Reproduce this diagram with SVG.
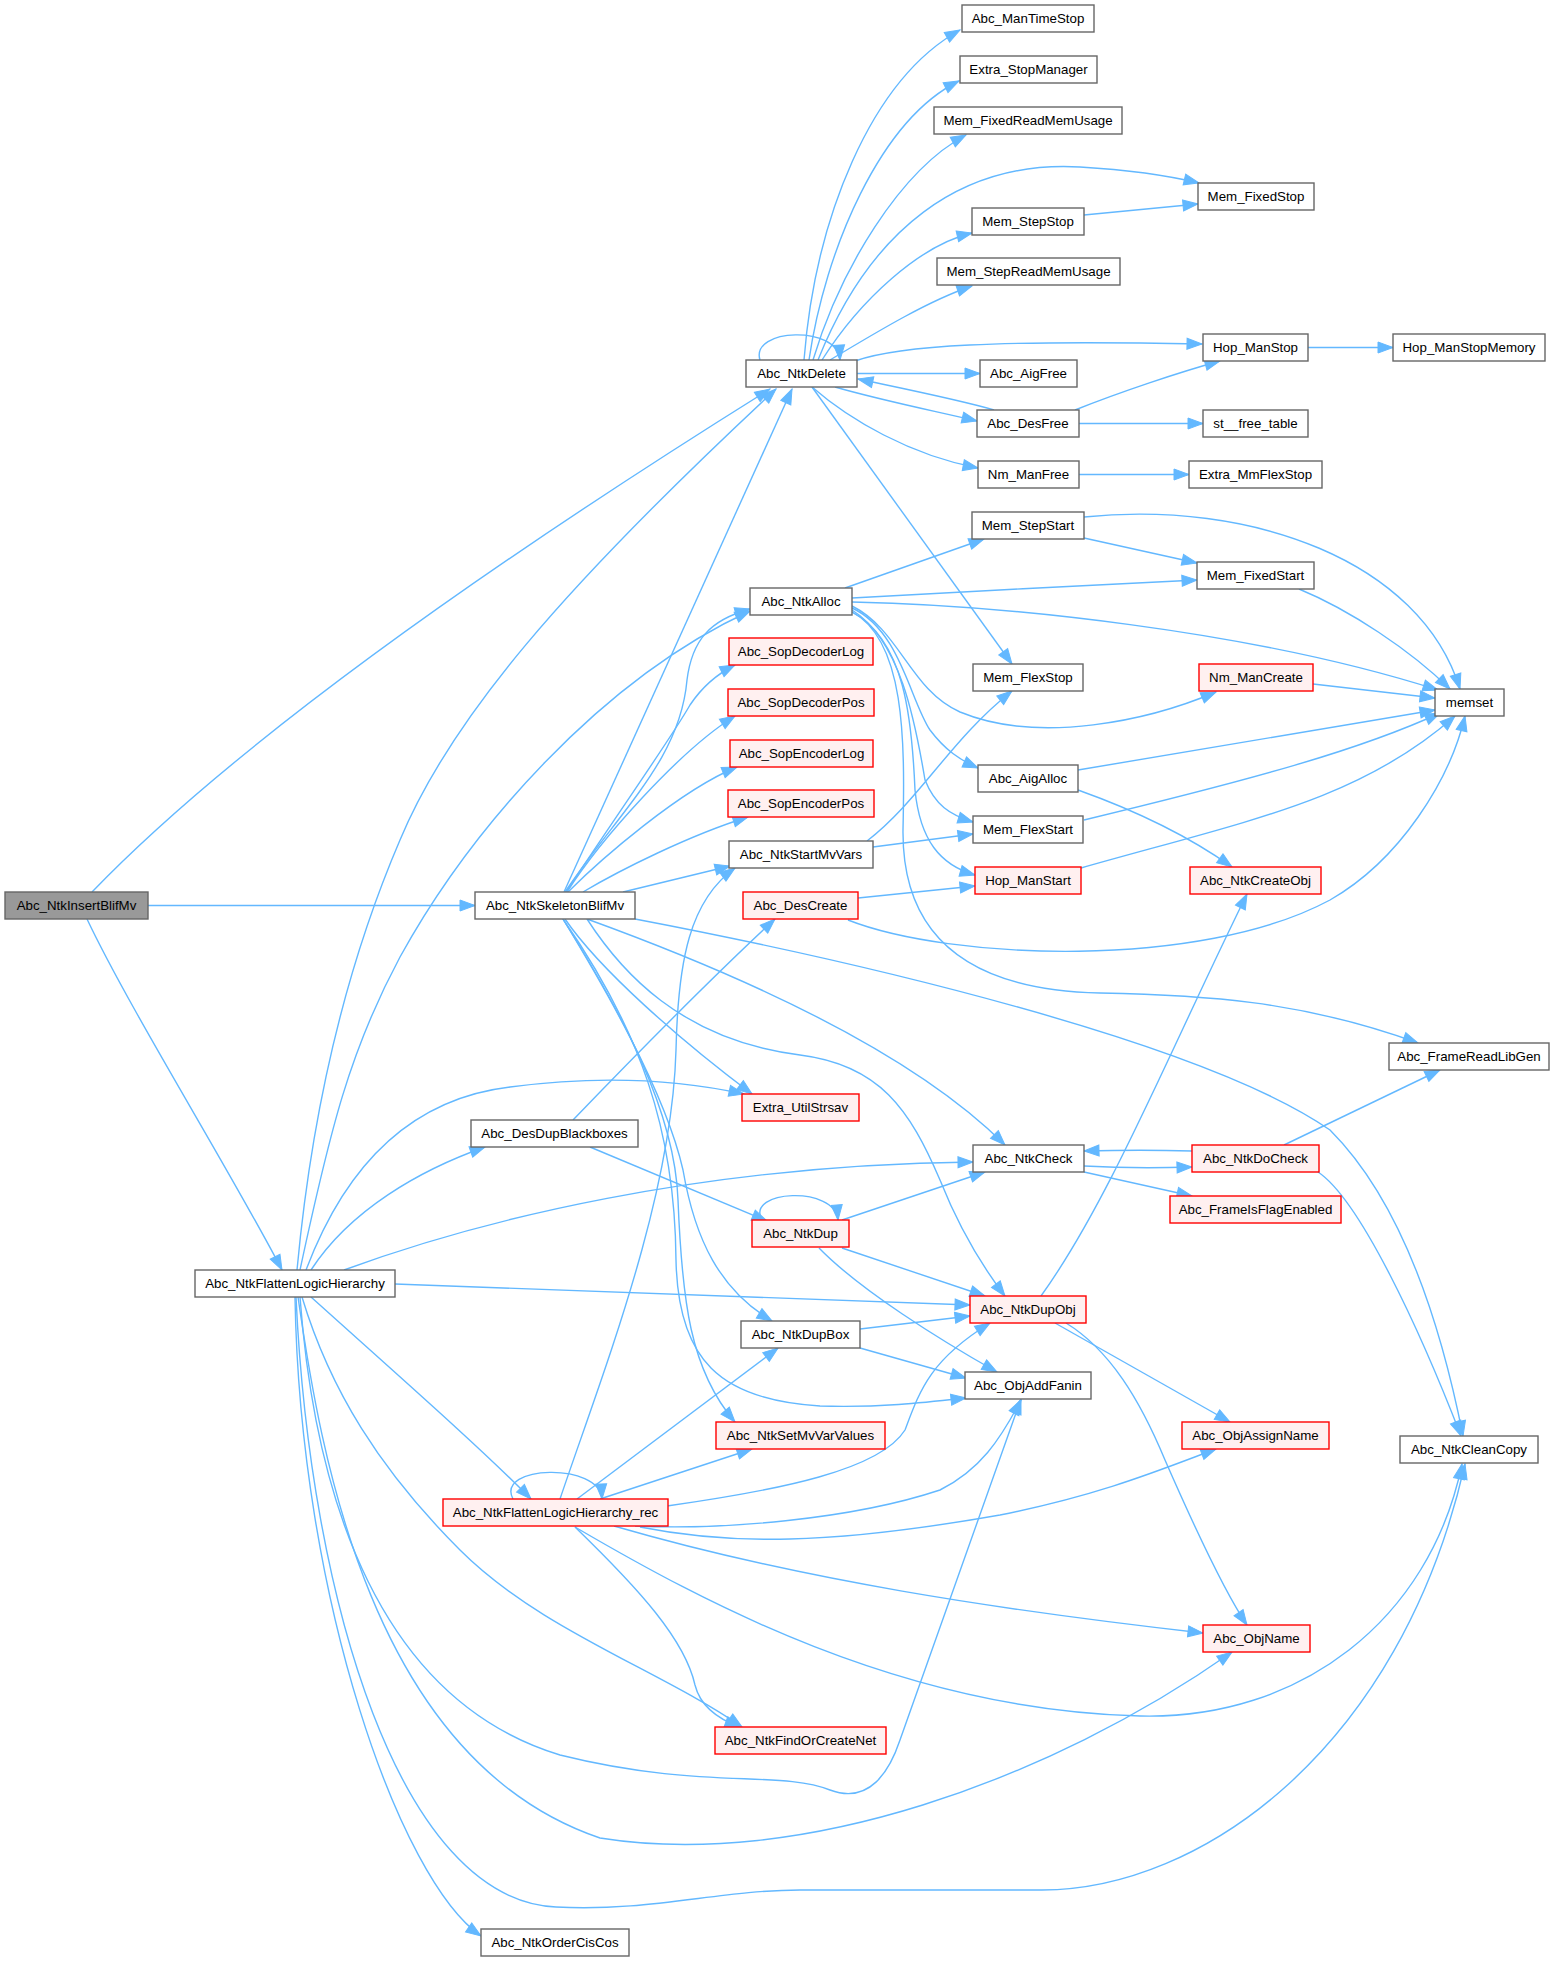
<svg xmlns="http://www.w3.org/2000/svg" width="1555" height="1961" viewBox="0 0 1555 1961">
<style>
rect{stroke-width:1.4}
.g rect{fill:#ffffff;stroke:#666666}
.r rect{fill:#fff0f0;stroke:#ff0000}
.root rect{fill:#999999;stroke:#666666}
text{font-family:"Liberation Sans",Arial,sans-serif;font-size:13.3px;fill:#000;text-anchor:middle}
#edges path{fill:none;stroke:#63b8ff;stroke-width:1.4;marker-end:url(#ah)}
</style>
<defs>
<marker id="ah" markerUnits="userSpaceOnUse" markerWidth="15" markerHeight="11" refX="15" refY="5.5" orient="auto" overflow="visible">
<path d="M0,0 L15,5.5 L0,11 Z" fill="#63b8ff" stroke="#63b8ff" stroke-width="1"/>
</marker>
</defs>
<rect width="1555" height="1961" fill="#ffffff"/>
<g id="edges">
<path d="M804,360 C815,220 870,80 960,30"/>
<path d="M809,360 C825,250 880,120 959,81"/>
<path d="M813,360 C840,270 900,170 966,135"/>
<path d="M818,360 C870,230 960,160 1080,167 C1130,170 1170,176 1199,183"/>
<path d="M822,360 C860,300 920,245 972,233"/>
<path d="M830,360 C880,330 930,300 972,286"/>
<path d="M760,360 C750,328 838,325 840,360"/>
<path d="M855,361 C900,345 1000,340 1202,344"/>
<path d="M857,373.5 L980,373.5"/>
<path d="M835,387 C880,400 930,410 977,421"/>
<path d="M812,387 C850,420 910,455 978,468"/>
<path d="M812,387 L1012,664"/>
<path d="M994,410 C960,400 900,388 858,379"/>
<path d="M1075,410 C1120,392 1180,372 1220,361"/>
<path d="M1079,423.5 L1203,423.5"/>
<path d="M1084,215 L1198,204"/>
<path d="M1308,347.5 L1393,347.5"/>
<path d="M1079,474.5 L1189,474.5"/>
<path d="M92,892 C200,780 400,620 770,389"/>
<path d="M148,905.5 L475,905.5"/>
<path d="M87,919 C130,1010 230,1170 282,1270"/>
<path d="M564,892 L792,389"/>
<path d="M565,892 C620,810 680,760 687,680 C692,640 710,620 750,609"/>
<path d="M566,892 C620,810 670,740 690,705 C700,690 715,675 735,665"/>
<path d="M567,892 C600,840 680,750 735,716"/>
<path d="M568,892 C600,860 680,790 737,767"/>
<path d="M583,892 C620,870 690,835 748,817"/>
<path d="M623,892 L730,866"/>
<path d="M635,919 C850,960 1200,1040 1330,1130 C1400,1200 1440,1320 1463,1436"/>
<path d="M587,919 C700,960 900,1040 1005,1145"/>
<path d="M587,919 C620,970 680,1040 800,1055 C880,1065 910,1110 940,1180 C960,1230 985,1270 1005,1296"/>
<path d="M565,919 C600,970 680,1040 752,1094"/>
<path d="M563,919 C600,980 665,1090 683,1170 C695,1240 720,1290 772,1321"/>
<path d="M563,919 C620,1010 675,1110 678,1200 C682,1300 690,1370 735,1422"/>
<path d="M563,919 C640,1030 675,1130 676,1260 C678,1360 720,1400 820,1406 C880,1408 930,1402 966,1398"/>
<path d="M297,1270 C310,1130 340,980 400,840 C450,720 560,590 776,389"/>
<path d="M300,1270 C330,1130 350,1050 400,957 C470,830 600,680 750,611"/>
<path d="M306,1270 C340,1180 400,1100 510,1087 C600,1075 680,1080 744,1094"/>
<path d="M311,1270 C350,1210 420,1170 485,1147"/>
<path d="M344,1270 C480,1220 700,1165 973,1162"/>
<path d="M395,1284 L970,1305"/>
<path d="M311,1297 C400,1377 483,1450 531,1499"/>
<path d="M302,1297 C330,1390 380,1470 460,1550 C540,1630 660,1670 742,1727"/>
<path d="M300,1297 C315,1500 380,1700 560,1755 C700,1790 780,1770 830,1790 C870,1805 890,1770 900,1740 C950,1600 995,1470 1021,1399"/>
<path d="M298,1297 C320,1450 370,1760 600,1838 C800,1870 1050,1780 1232,1652"/>
<path d="M296,1297 C310,1600 400,1900 556,1907 C650,1912 720,1890 800,1890 L1042,1890 C1200,1890 1400,1750 1465,1464"/>
<path d="M295,1297 C300,1600 400,1880 481,1936"/>
<path d="M573,1120 C650,1040 720,970 775,919"/>
<path d="M590,1147 L767,1221"/>
<path d="M513,1499 C495,1465 600,1462 602,1499"/>
<path d="M560,1499 C600,1380 672,1200 676,1050 C678,960 690,900 735,868"/>
<path d="M577,1499 L778,1348"/>
<path d="M600,1499 L752,1449"/>
<path d="M667,1506 C780,1490 880,1470 905,1430 C920,1390 930,1360 990,1323"/>
<path d="M635,1526 C720,1530 850,1520 940,1490 C980,1470 1000,1440 1021,1400"/>
<path d="M640,1527 C730,1545 830,1545 1000,1515 C1100,1495 1160,1470 1216,1449"/>
<path d="M614,1526 C800,1580 1000,1610 1203,1633"/>
<path d="M575,1527 C700,1600 900,1710 1140,1716 C1300,1720 1430,1620 1462,1464"/>
<path d="M575,1527 C640,1590 685,1640 695,1685 C700,1705 715,1718 740,1727"/>
<path d="M845,588 L984,539"/>
<path d="M852,598 C950,592 1100,585 1197,580"/>
<path d="M852,602 C1000,605 1250,630 1438,690"/>
<path d="M852,606 C900,630 910,690 960,712 C1040,745 1150,720 1216,692"/>
<path d="M852,608 C900,630 910,700 930,730 C945,750 960,760 978,768"/>
<path d="M852,610 C900,640 915,720 925,780 C935,805 950,815 973,822"/>
<path d="M852,612 C905,640 912,720 915,790 C920,840 940,865 975,875"/>
<path d="M852,612 C905,640 905,740 903,830 C902,930 960,990 1100,993 C1200,995 1300,1000 1418,1043"/>
<path d="M1084,538 L1197,563"/>
<path d="M1084,517 C1250,500 1420,560 1460,689"/>
<path d="M1299,589 C1350,610 1410,650 1450,689"/>
<path d="M1313,684 L1435,698"/>
<path d="M1078,770 L1435,710"/>
<path d="M1078,790 C1120,805 1180,830 1232,867"/>
<path d="M1084,820 C1250,780 1360,750 1440,713"/>
<path d="M1081,868 C1250,820 1360,800 1455,716"/>
<path d="M858,898 L975,886"/>
<path d="M848,920 C950,960 1200,970 1330,900 C1400,860 1450,780 1465,716"/>
<path d="M867,841 C920,800 950,740 1012,691"/>
<path d="M873,847 L973,834"/>
<path d="M762,1220 C745,1190 835,1185 838,1220"/>
<path d="M842,1220 L985,1172"/>
<path d="M842,1248 L985,1296"/>
<path d="M819,1248 C860,1290 940,1340 997,1372"/>
<path d="M860,1329 L970,1316"/>
<path d="M860,1348 L966,1378"/>
<path d="M1084,1166 C1120,1168 1160,1168 1192,1167"/>
<path d="M1192,1151 C1160,1150 1120,1150 1084,1151"/>
<path d="M1084,1172 L1192,1196"/>
<path d="M1284,1145 L1440,1070"/>
<path d="M1318,1172 C1360,1200 1420,1330 1461,1436"/>
<path d="M1041,1296 C1110,1200 1170,1050 1247,894"/>
<path d="M1055,1323 L1230,1422"/>
<path d="M1066,1323 C1110,1350 1140,1400 1165,1460 C1200,1540 1230,1600 1247,1625"/>
</g>
<g id="Abc_NtkInsertBlifMv" class="root"><rect x="5" y="892" width="143" height="27"/><text x="76.5" y="910.2">Abc_NtkInsertBlifMv</text></g>
<g id="Abc_NtkSkeletonBlifMv" class="g"><rect x="475" y="892" width="160" height="27"/><text x="555" y="910.2">Abc_NtkSkeletonBlifMv</text></g>
<g id="Abc_NtkDelete" class="g"><rect x="746" y="360" width="111" height="27"/><text x="801.5" y="378.2">Abc_NtkDelete</text></g>
<g id="Abc_ManTimeStop" class="g"><rect x="962" y="5" width="132" height="27"/><text x="1028" y="23.2">Abc_ManTimeStop</text></g>
<g id="Extra_StopManager" class="g"><rect x="960" y="56" width="137" height="27"/><text x="1028.5" y="74.2">Extra_StopManager</text></g>
<g id="Mem_FixedReadMemUsage" class="g"><rect x="934" y="107" width="188" height="27"/><text x="1028" y="125.2">Mem_FixedReadMemUsage</text></g>
<g id="Mem_FixedStop" class="g"><rect x="1198" y="183" width="116" height="27"/><text x="1256" y="201.2">Mem_FixedStop</text></g>
<g id="Mem_StepStop" class="g"><rect x="972" y="208" width="112" height="27"/><text x="1028" y="226.2">Mem_StepStop</text></g>
<g id="Mem_StepReadMemUsage" class="g"><rect x="937" y="258" width="183" height="27"/><text x="1028.5" y="276.2">Mem_StepReadMemUsage</text></g>
<g id="Hop_ManStop" class="g"><rect x="1203" y="334" width="105" height="27"/><text x="1255.5" y="352.2">Hop_ManStop</text></g>
<g id="Hop_ManStopMemory" class="g"><rect x="1393" y="334" width="152" height="27"/><text x="1469" y="352.2">Hop_ManStopMemory</text></g>
<g id="Abc_AigFree" class="g"><rect x="980" y="360" width="97" height="27"/><text x="1028.5" y="378.2">Abc_AigFree</text></g>
<g id="Abc_DesFree" class="g"><rect x="977" y="410" width="102" height="27"/><text x="1028" y="428.2">Abc_DesFree</text></g>
<g id="st__free_table" class="g"><rect x="1203" y="410" width="105" height="27"/><text x="1255.5" y="428.2">st__free_table</text></g>
<g id="Nm_ManFree" class="g"><rect x="978" y="461" width="101" height="27"/><text x="1028.5" y="479.2">Nm_ManFree</text></g>
<g id="Extra_MmFlexStop" class="g"><rect x="1189" y="461" width="133" height="27"/><text x="1255.5" y="479.2">Extra_MmFlexStop</text></g>
<g id="Mem_StepStart" class="g"><rect x="972" y="512" width="112" height="27"/><text x="1028" y="530.2">Mem_StepStart</text></g>
<g id="Mem_FixedStart" class="g"><rect x="1197" y="562" width="117" height="27"/><text x="1255.5" y="580.2">Mem_FixedStart</text></g>
<g id="Abc_NtkAlloc" class="g"><rect x="750" y="588" width="102" height="27"/><text x="801" y="606.2">Abc_NtkAlloc</text></g>
<g id="Abc_SopDecoderLog" class="r"><rect x="729" y="638" width="144" height="27"/><text x="801" y="656.2">Abc_SopDecoderLog</text></g>
<g id="Mem_FlexStop" class="g"><rect x="973" y="664" width="110" height="27"/><text x="1028" y="682.2">Mem_FlexStop</text></g>
<g id="Nm_ManCreate" class="r"><rect x="1199" y="664" width="114" height="27"/><text x="1256" y="682.2">Nm_ManCreate</text></g>
<g id="memset" class="g"><rect x="1435" y="689" width="69" height="27"/><text x="1469.5" y="707.2">memset</text></g>
<g id="Abc_SopDecoderPos" class="r"><rect x="728" y="689" width="146" height="27"/><text x="801" y="707.2">Abc_SopDecoderPos</text></g>
<g id="Abc_SopEncoderLog" class="r"><rect x="730" y="740" width="143" height="27"/><text x="801.5" y="758.2">Abc_SopEncoderLog</text></g>
<g id="Abc_AigAlloc" class="g"><rect x="978" y="765" width="100" height="27"/><text x="1028" y="783.2">Abc_AigAlloc</text></g>
<g id="Abc_SopEncoderPos" class="r"><rect x="728" y="790" width="146" height="27"/><text x="801" y="808.2">Abc_SopEncoderPos</text></g>
<g id="Mem_FlexStart" class="g"><rect x="973" y="816" width="110" height="27"/><text x="1028" y="834.2">Mem_FlexStart</text></g>
<g id="Abc_NtkStartMvVars" class="g"><rect x="729" y="841" width="144" height="27"/><text x="801" y="859.2">Abc_NtkStartMvVars</text></g>
<g id="Hop_ManStart" class="r"><rect x="975" y="867" width="106" height="27"/><text x="1028" y="885.2">Hop_ManStart</text></g>
<g id="Abc_NtkCreateObj" class="r"><rect x="1190" y="867" width="131" height="27"/><text x="1255.5" y="885.2">Abc_NtkCreateObj</text></g>
<g id="Abc_DesCreate" class="r"><rect x="743" y="892" width="115" height="27"/><text x="800.5" y="910.2">Abc_DesCreate</text></g>
<g id="Abc_FrameReadLibGen" class="g"><rect x="1389" y="1043" width="160" height="27"/><text x="1469" y="1061.2">Abc_FrameReadLibGen</text></g>
<g id="Extra_UtilStrsav" class="r"><rect x="742" y="1094" width="117" height="27"/><text x="800.5" y="1112.2">Extra_UtilStrsav</text></g>
<g id="Abc_DesDupBlackboxes" class="g"><rect x="471" y="1120" width="167" height="27"/><text x="554.5" y="1138.2">Abc_DesDupBlackboxes</text></g>
<g id="Abc_NtkCheck" class="g"><rect x="973" y="1145" width="111" height="27"/><text x="1028.5" y="1163.2">Abc_NtkCheck</text></g>
<g id="Abc_NtkDoCheck" class="r"><rect x="1192" y="1145" width="127" height="27"/><text x="1255.5" y="1163.2">Abc_NtkDoCheck</text></g>
<g id="Abc_FrameIsFlagEnabled" class="r"><rect x="1170" y="1196" width="171" height="27"/><text x="1255.5" y="1214.2">Abc_FrameIsFlagEnabled</text></g>
<g id="Abc_NtkDup" class="r"><rect x="752" y="1220" width="97" height="27"/><text x="800.5" y="1238.2">Abc_NtkDup</text></g>
<g id="Abc_NtkFlattenLogicHierarchy" class="g"><rect x="195" y="1270" width="200" height="27"/><text x="295" y="1288.2">Abc_NtkFlattenLogicHierarchy</text></g>
<g id="Abc_NtkDupObj" class="r"><rect x="970" y="1296" width="116" height="27"/><text x="1028" y="1314.2">Abc_NtkDupObj</text></g>
<g id="Abc_NtkDupBox" class="g"><rect x="741" y="1321" width="119" height="27"/><text x="800.5" y="1339.2">Abc_NtkDupBox</text></g>
<g id="Abc_ObjAddFanin" class="g"><rect x="965" y="1372" width="126" height="27"/><text x="1028" y="1390.2">Abc_ObjAddFanin</text></g>
<g id="Abc_NtkSetMvVarValues" class="r"><rect x="716" y="1422" width="169" height="27"/><text x="800.5" y="1440.2">Abc_NtkSetMvVarValues</text></g>
<g id="Abc_ObjAssignName" class="r"><rect x="1182" y="1422" width="147" height="27"/><text x="1255.5" y="1440.2">Abc_ObjAssignName</text></g>
<g id="Abc_NtkCleanCopy" class="g"><rect x="1400" y="1436" width="138" height="27"/><text x="1469" y="1454.2">Abc_NtkCleanCopy</text></g>
<g id="Abc_NtkFlattenLogicHierarchy_rec" class="r"><rect x="443" y="1499" width="225" height="27"/><text x="555.5" y="1517.2">Abc_NtkFlattenLogicHierarchy_rec</text></g>
<g id="Abc_ObjName" class="r"><rect x="1203" y="1625" width="107" height="27"/><text x="1256.5" y="1643.2">Abc_ObjName</text></g>
<g id="Abc_NtkFindOrCreateNet" class="r"><rect x="715" y="1727" width="171" height="27"/><text x="800.5" y="1745.2">Abc_NtkFindOrCreateNet</text></g>
<g id="Abc_NtkOrderCisCos" class="g"><rect x="481" y="1929" width="148" height="27"/><text x="555" y="1947.2">Abc_NtkOrderCisCos</text></g>
</svg>
